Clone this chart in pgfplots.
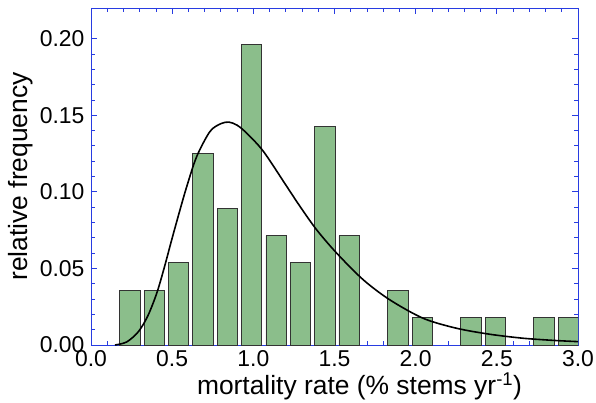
\documentclass[border=0pt]{standalone}
\usepackage{pgfplots}
\pgfplotsset{compat=1.18}
\usepackage{fontspec}
\setmainfont{Liberation Sans}
\definecolor{barfill}{RGB}{139,190,139}
\definecolor{axblue}{RGB}{40,60,225}
\begin{document}
\begin{tikzpicture}
\useasboundingbox (-91bp,-58bp) rectangle (505bp,345bp);
\begin{axis}[
  scale only axis,
  width=487bp, height=337bp,
  xmin=0, xmax=3.0, ymin=0, ymax=0.22,
  xtick={0,0.5,...,3.0},
  ytick={0,0.05,...,0.20},
  minor x tick num=4,
  minor y tick num=4,
  tick align=inside,
  major tick length=6bp,
  minor tick length=4bp,
  axis line style={axblue, line width=0.9pt},
  every tick/.style={axblue, line width=0.8pt},
  x tick label style={yshift=-2bp, /pgf/number format/.cd, fixed, fixed zerofill, precision=1},
  y tick label style={xshift=-3bp, /pgf/number format/.cd, fixed, fixed zerofill, precision=2},
  /pgf/number format/assume math mode=true,
  tick label style={font=\fontsize{23}{26}\selectfont},
  label style={font=\fontsize{26.5}{30}\selectfont},
  xlabel={mortality rate (\% stems yr\textsuperscript{-1})},
  ylabel={relative frequency},
  xlabel style={yshift=1bp, xshift=25bp},
  ylabel style={yshift=0bp},
]
\addplot[ybar, bar width=0.125, fill=barfill, draw=black!80, line width=0.8pt] coordinates {
(0.24,0.0357) (0.39,0.0357) (0.54,0.0536) (0.69,0.1250) (0.84,0.0893)
(0.99,0.1964) (1.14,0.0714) (1.29,0.0536) (1.44,0.1429) (1.59,0.0714)
(1.89,0.0357) (2.04,0.0179) (2.34,0.0179) (2.49,0.0179) (2.79,0.0179) (2.94,0.0179)
};
\addplot[black, line width=1.6pt, smooth] coordinates {
(0.148,0.0) (0.22,0.002) (0.292,0.0087) (0.35,0.019) (0.405,0.0338) (0.45,0.050) (0.497,0.0686)
(0.545,0.087) (0.59,0.1035) (0.651,0.123) (0.733,0.1394) (0.80,0.1445) (0.85,0.1455) (0.90,0.1435)
(0.959,0.1383) (1.062,0.1264) (1.206,0.1035) (1.288,0.0904) (1.39,0.0752)
(1.514,0.0599) (1.678,0.0425) (1.842,0.0294) (2.047,0.0174) (2.253,0.0109)
(2.458,0.0070) (2.663,0.0044) (2.85,0.0030) (3.0,0.0022)
};
\end{axis}
\end{tikzpicture}
\end{document}
